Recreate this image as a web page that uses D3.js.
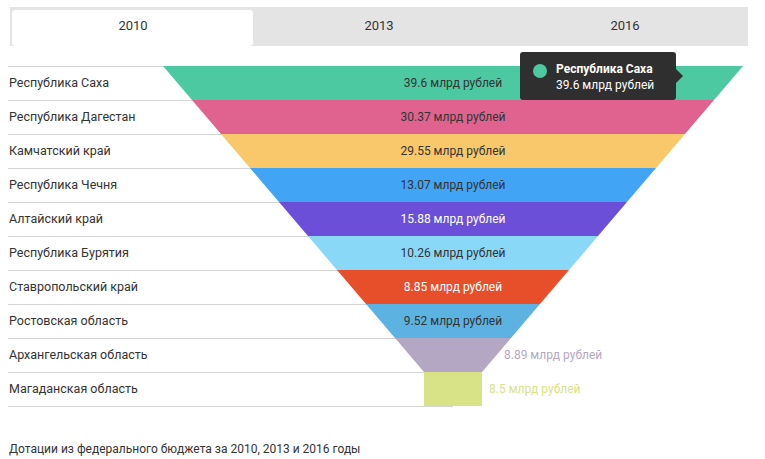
<!DOCTYPE html>
<html><head><meta charset="utf-8">
<script src="https://cdn.jsdelivr.net/npm/d3@7"></script>
<style>body{margin:0;background:#fff;font-family:Roboto,sans-serif}</style>
</head><body>
<script>
// данные
var regions = ["Республика Саха","Республика Дагестан","Камчатский край","Республика Чечня","Алтайский край","Республика Бурятия","Ставропольский край","Ростовская область","Архангельская область","Магаданская область"]
var values = [39.6, 30.37, 29.55, 13.07, 15.88, 10.26, 8.85, 9.52, 8.89, 8.5]
var colors = ["#4dc9a1","#e0638f","#f9c86b","#42a4f4","#6b4fd8","#8ad8f7","#e74f2b","#5cb3e2","#b4a7c3","#d8e287"]
var tabs = ["2010","2013","2016"]

var width = 765, height = 459
var svg = d3.select("body").append("svg").attr("width", width).attr("height", height)

// вкладки
var tabX = d3.scaleBand().domain(tabs).range([10, 748])
svg.append("rect").attr("x", 10).attr("y", 7).attr("width", 738).attr("height", 39).attr("fill", "#e4e4e4")
svg.append("rect").attr("x", 12).attr("y", 10).attr("width", 241).attr("height", 36).attr("rx", 3).attr("fill", "#fff")
svg.selectAll(".tab").data(tabs).enter().append("text")
  .attr("x", d => tabX(d) + tabX.bandwidth()/2).attr("y", 30)
  .attr("text-anchor", "middle").attr("font-size", 13).attr("fill", "#333").text(d => d)

// шкалы
var y = d3.scaleBand().domain(d3.range(regions.length)).range([66, 406])
var half = d3.scaleLinear().domain([0, 9]).range([290, 29])
var cx = 453

// линии и подписи
svg.selectAll(".line").data(d3.range(regions.length + 1)).enter().append("line")
  .attr("x1", 8).attr("x2", cx).attr("y1", i => i < regions.length ? y(i) + 0.5 : 406.5).attr("y2", i => i < regions.length ? y(i) + 0.5 : 406.5)
  .attr("stroke", "#d5d5d5")
svg.selectAll(".lab").data(regions).enter().append("text")
  .attr("x", 9).attr("y", (d, i) => y(i) + y.bandwidth()/2 + 4)
  .attr("font-size", 12.5).attr("fill", "#333").text(d => d)

// воронка
svg.selectAll(".seg").data(values).enter().append("path")
  .attr("fill", (d, i) => colors[i])
  .attr("d", function(d, i) {
    var t = y(i), b = y(i) + y.bandwidth()
    var h1 = half(Math.min(i, 9)), h2 = half(Math.min(i + 1, 9))
    return "M" + (cx - h1) + "," + t + "L" + (cx + h1) + "," + t + "L" + (cx + h2) + "," + b + "L" + (cx - h2) + "," + b + "Z"
  })

var inside = [true, true, true, true, true, true, true, true, false, false]
var light = [false, false, false, false, true, false, true, false, false, false]
svg.selectAll(".val").data(values).enter().append("text")
  .attr("x", (d, i) => inside[i] ? cx : cx + half(Math.min(i + 1, 9)) + 7 + (i == 8 ? 15 : 0))
  .attr("y", (d, i) => y(i) + y.bandwidth()/2 + 4)
  .attr("text-anchor", (d, i) => inside[i] ? "middle" : "start")
  .attr("font-size", 12)
  .attr("fill", (d, i) => inside[i] ? (light[i] ? "#fff" : "#333") : colors[i])
  .text(d => d + " млрд рублей")

// подсказка
var tip = svg.append("g").attr("transform", "translate(520,52)")
tip.append("rect").attr("width", 156).attr("height", 48).attr("rx", 3).attr("fill", "#2f2f2f")
tip.append("path").attr("d", "M156,17L163,24L156,31Z").attr("fill", "#2f2f2f")
tip.append("circle").attr("cx", 20).attr("cy", 19).attr("r", 7).attr("fill", colors[0])
tip.append("text").attr("x", 36).attr("y", 21).attr("font-size", 12).attr("font-weight", "bold").attr("fill", "#fff").text(regions[0])
tip.append("text").attr("x", 36).attr("y", 37).attr("font-size", 12).attr("fill", "#fff").text(values[0] + " млрд рублей")

svg.append("text").attr("x", 9).attr("y", 453).attr("font-size", 12).attr("fill", "#333")
  .text("Дотации из федерального бюджета за 2010, 2013 и 2016 годы")
</script>
</body></html>
